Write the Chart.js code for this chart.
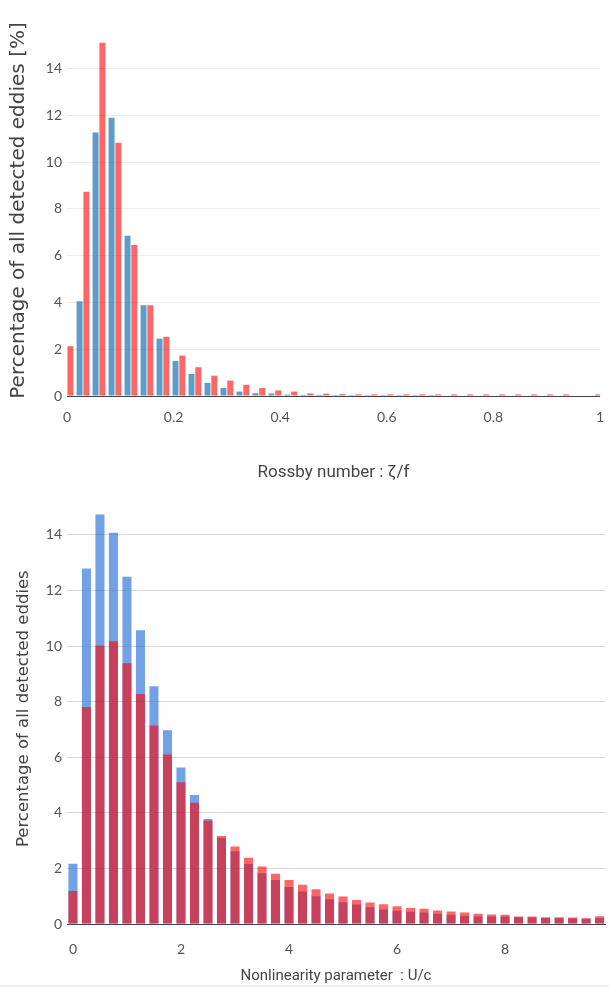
<!DOCTYPE html>
<html lang="en">
  <head>
    <meta charset="UTF-8" />
    <title>Eddy statistics</title>
    <style>
      html, body { margin: 0; padding: 0; background: #fff; }
      .page { position: relative; width: 609px; height: 988px; overflow: hidden; }
      .chart-box { position: absolute; left: 0; width: 609px; }
      #rossbyBox { top: 0; height: 480px; }
      #nonlinBox { top: 480px; height: 505px; }
      .bottom-rule { position: absolute; left: 0; top: 985px; width: 609px; height: 2px; background: #ececec; }
    </style>
  </head>
  <body>
    <div class="page">
      <div class="chart-box" id="rossbyBox"><canvas id="rossbyChart"></canvas></div>
      <div class="chart-box" id="nonlinBox"><canvas id="nonlinChart"></canvas></div>
      <div class="bottom-rule"></div>
    </div>

    <script src="https://cdn.jsdelivr.net/npm/chart.js@4.4.0/dist/chart.umd.min.js"></script>
    <script>
      // tick labels
      const percentTicks = [0, 2, 4, 6, 8, 10, 12, 14];
      const rossbyTicks = [0, 0.2, 0.4, 0.6, 0.8, 1];
      const nonlinTicks = [0, 2, 4, 6, 8];

      // Rossby number histogram (bin positions and percentages)
      const rossbyBins = [0, 0.03, 0.06, 0.09, 0.12, 0.15, 0.18, 0.21, 0.24, 0.27, 0.3, 0.33,
        0.36, 0.39, 0.42, 0.45, 0.48, 0.51, 0.54, 0.57, 0.6, 0.63, 0.66, 0.69, 0.72, 0.75,
        0.78, 0.81, 0.84, 0.87, 0.9, 0.93, 0.96, 0.99];
      const rossbyBlue = [0, 4.05, 11.26, 11.9, 6.85, 3.88, 2.45, 1.5, 0.94, 0.56, 0.34, 0.19,
        0.12, 0.11, 0.06, 0.05, 0.05, 0.04, 0.04, 0.04, 0.04, 0.04, 0.04, 0.04, 0, 0,
        0, 0, 0, 0, 0, 0, 0, 0];
      const rossbyRed = [2.13, 8.73, 15.1, 10.83, 6.45, 3.88, 2.53, 1.73, 1.23, 0.87, 0.66, 0.48,
        0.34, 0.24, 0.19, 0.11, 0.1, 0.08, 0.07, 0.07, 0.07, 0.07, 0.07, 0.07, 0.07, 0.07,
        0.07, 0.07, 0.07, 0.07, 0.07, 0.07, 0, 0.07];

      // Nonlinearity parameter histogram
      const nonlinBins = [0, 0.25, 0.5, 0.75, 1, 1.25, 1.5, 1.75, 2, 2.25, 2.5, 2.75, 3, 3.25,
        3.5, 3.75, 4, 4.25, 4.5, 4.75, 5, 5.25, 5.5, 5.75, 6, 6.25, 6.5, 6.75, 7, 7.25, 7.5,
        7.75, 8, 8.25, 8.5, 8.75, 9, 9.25, 9.5, 9.75];
      const nonlinBlue = [2.17, 12.79, 14.73, 14.07, 12.49, 10.57, 8.55, 6.97, 5.63, 4.64,
        3.78, 3.09, 2.62, 2.16, 1.83, 1.58, 1.33, 1.17, 1.0, 0.89,
        0.78, 0.7, 0.6, 0.52, 0.48, 0.44, 0.41, 0.37, 0.33, 0.29,
        0.27, 0.27, 0.27, 0.24, 0.23, 0.22, 0.21, 0.2, 0.19, 0.22];
      const nonlinRed = [1.19, 7.81, 10.02, 10.17, 9.38, 8.27, 7.14, 6.1, 5.1, 4.36,
        3.72, 3.17, 2.79, 2.38, 2.07, 1.81, 1.58, 1.41, 1.25, 1.1,
        0.99, 0.86, 0.77, 0.71, 0.64, 0.58, 0.55, 0.49, 0.45, 0.41,
        0.37, 0.34, 0.33, 0.27, 0.27, 0.24, 0.24, 0.23, 0.21, 0.28];

      const tickColor = "#555";
      const titleColor = "#444";

      function points(xs, ys) {
        return xs.map((x, i) => ({ x: x, y: ys[i] }));
      }

      function fixedTicks(values) {
        return (scale) => {
          scale.ticks = values.map((v) => ({ value: v }));
        };
      }

      function axisOptions(cfg) {
        return {
          x: {
            type: "linear",
            min: cfg.xMin,
            max: cfg.xMax,
            offset: false,
            afterBuildTicks: fixedTicks(cfg.xTicks),
            afterFit: (s) => { s.height = cfg.xHeight; },
            grid: { display: false },
            border: { display: true, color: "#444", width: 1 },
            ticks: {
              padding: cfg.xTickPad,
              color: tickColor,
              font: { family: "Lato, sans-serif", size: 14 },
              maxRotation: 0,
              autoSkip: false,
              callback: (v) => String(v),
            },
            title: {
              display: true,
              text: cfg.xTitle,
              color: titleColor,
              font: { family: "Roboto, sans-serif", size: cfg.xTitleSize },
              padding: { top: 0, bottom: cfg.xTitlePad },
            },
          },
          y: {
            min: 0,
            max: cfg.yMax,
            afterBuildTicks: fixedTicks(percentTicks),
            afterFit: (s) => { s.width = 67; },
            grid: { color: cfg.gridColor, lineWidth: 1, drawTicks: false },
            border: { display: false },
            ticks: {
              padding: 5,
              color: tickColor,
              font: { family: "Lato, sans-serif", size: 14 },
            },
            title: {
              display: true,
              text: cfg.yTitle,
              color: titleColor,
              font: { family: "'DejaVu Sans', sans-serif", size: cfg.yTitleSize },
              padding: { top: cfg.yTitlePad, bottom: 0 },
            },
          },
        };
      }

      // Rossby number chart (grouped bars)
      new Chart(document.getElementById("rossbyChart"), {
        type: "bar",
        data: {
          datasets: [
            {
              label: "blue",
              data: points(rossbyBins, rossbyBlue),
              backgroundColor: "rgba(31, 119, 180, 0.72)",
              borderWidth: 0,
              categoryPercentage: 0.85,
              barPercentage: 0.88,
              clip: 0,
            },
            {
              label: "red",
              data: points(rossbyBins, rossbyRed),
              backgroundColor: "rgba(255, 0, 0, 0.6)",
              borderWidth: 0,
              categoryPercentage: 0.85,
              barPercentage: 0.88,
              clip: 0,
            },
          ],
        },
        options: {
          animation: false,
          responsive: true,
          maintainAspectRatio: false,
          layout: { padding: { top: 25, right: 4, bottom: 0, left: 0 } },
          plugins: { legend: { display: false }, tooltip: { enabled: false } },
          scales: axisOptions({
            xMin: 0, xMax: 1, xTicks: rossbyTicks, xHeight: 84, xTickPad: 5,
            xTitle: "Rossby number : ζ/f", xTitleSize: 17, xTitlePad: -3,
            yMax: 15.86, gridColor: "#ececec",
            yTitle: "Percentage of all detected eddies [%]", yTitleSize: 20, yTitlePad: 7,
          }),
        },
      });

      // Nonlinearity chart (overlaid bars, red drawn on top)
      new Chart(document.getElementById("nonlinChart"), {
        type: "bar",
        data: {
          datasets: [
            {
              label: "blue",
              data: points(nonlinBins, nonlinBlue),
              backgroundColor: "rgba(40, 110, 215, 0.65)",
              borderWidth: 0,
              grouped: false,
              categoryPercentage: 0.67,
              barPercentage: 1,
              order: 1,
              clip: 0,
            },
            {
              label: "red",
              data: points(nonlinBins, nonlinRed),
              backgroundColor: "rgba(255, 0, 0, 0.6)",
              borderWidth: 0,
              grouped: false,
              categoryPercentage: 0.67,
              barPercentage: 1,
              order: 0,
              clip: 0,
            },
          ],
        },
        options: {
          animation: false,
          responsive: true,
          maintainAspectRatio: false,
          layout: { padding: { top: 0, right: 4, bottom: 0, left: 0 } },
          plugins: { legend: { display: false }, tooltip: { enabled: false } },
          scales: axisOptions({
            xMin: -0.11, xMax: 9.85, xTicks: nonlinTicks, xHeight: 61, xTickPad: 9,
            xTitle: "Nonlinearity parameter  : U/c", xTitleSize: 15, xTitlePad: 0,
            yMax: 15.49, gridColor: "#d9d9d9",
            yTitle: "Percentage of all detected eddies", yTitleSize: 16.5, yTitlePad: 14,
          }),
        },
      });
    </script>
  </body>
</html>
